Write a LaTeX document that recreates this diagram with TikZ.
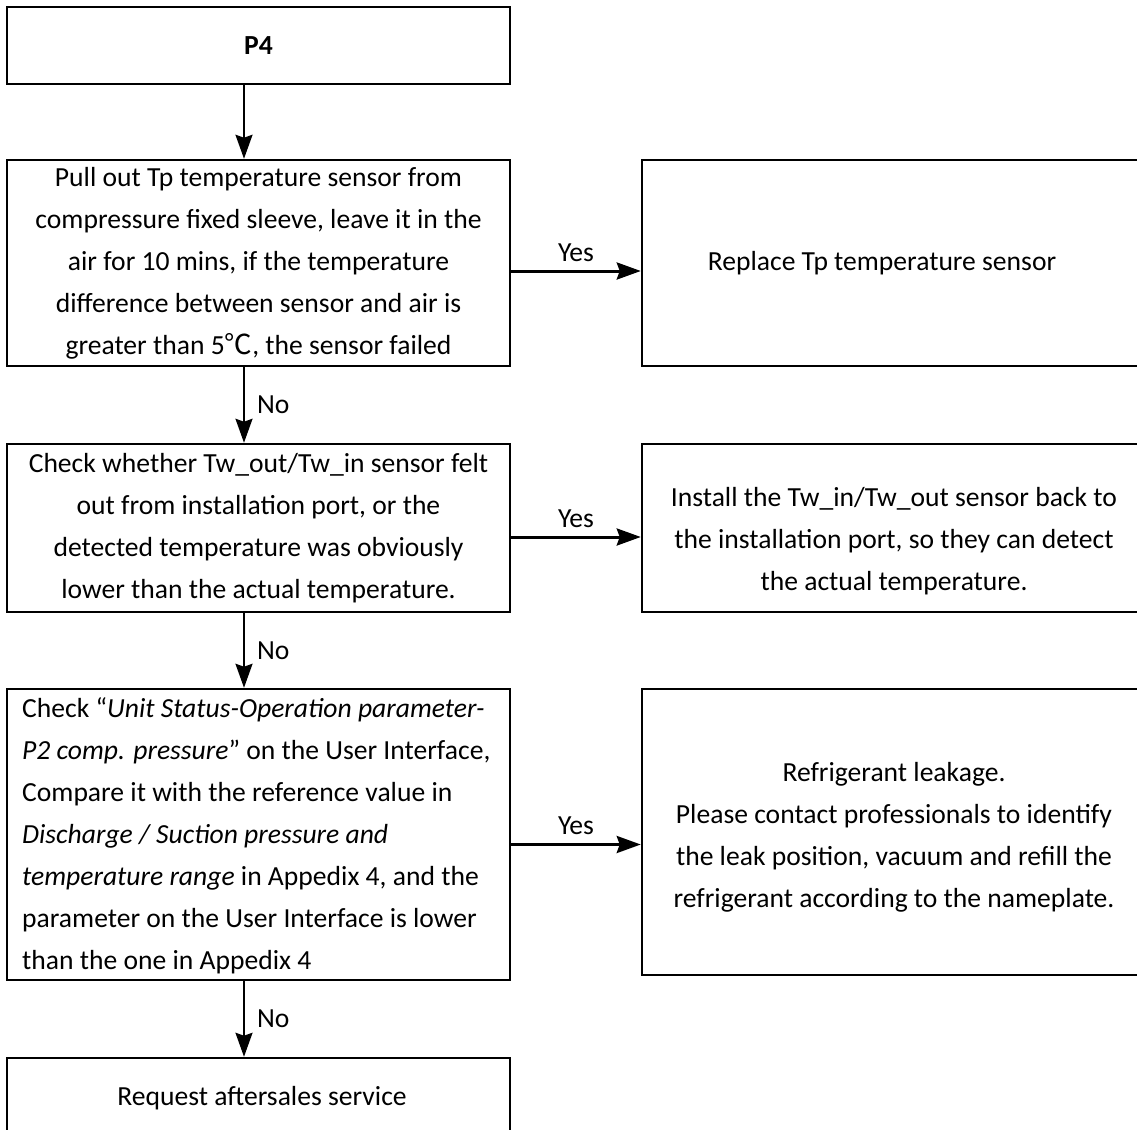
\documentclass[tikz,border=0pt]{standalone}
\usepackage{fontspec}
\setmainfont{Carlito}
\newfontfamily\cjk{Noto Sans CJK SC}
\usetikzlibrary{arrows.meta}
\newcommand{\bodyfont}{\fontsize{27.6}{42}\selectfont}
\tikzset{
  box/.style={draw, line width=2.5pt, inner sep=0pt, align=center, font=\bodyfont},
  tip/.style={-{Stealth[length=24pt,width=17pt,inset=3pt]}},
  noarr/.style={line width=2pt, tip},
  yesarr/.style={line width=3pt, tip},
  lbl/.style={font=\bodyfont, inner sep=0pt}
}
\begin{document}
\begin{tikzpicture}[x=1pt,y=-1pt]
\fill[white] (0,0) rectangle (1137,1129);
\useasboundingbox (0,0) rectangle (1137,1129);
\coordinate (ax) at (244,0);
% left column
\node[box, minimum width=503pt, minimum height=77pt] (p4) at (258.5,45.5) {\textbf{P4}};
\node[box, minimum width=503pt, minimum height=206pt] (b2) at (258.5,263) {Pull out Tp temperature sensor from\\compressure fixed sleeve, leave it in the\\air for 10 mins, if the temperature\\difference between sensor and air is\\greater than 5{\cjk ℃}, the sensor failed};
\node[box, minimum width=503pt, minimum height=168pt] (b3) at (258.5,528) {Check whether Tw\_out/Tw\_in sensor felt\\out from installation port, or the\\detected temperature was obviously\\lower than the actual temperature.};
\node[draw, line width=2.5pt, minimum width=503pt, minimum height=291pt, inner sep=0pt] (b4) at (258.5,834.5) {};
\node[lbl, align=left, anchor=west] (b4t) at (22,836) {Check “\textit{Unit Status-Operation parameter-}\\\textit{P2 comp. pressure}” on the User Interface,\\Compare it with the reference value in\\\textit{Discharge / Suction pressure and}\\\textit{temperature range} in Appedix 4, and the\\parameter on the User Interface is lower\\than the one in Appedix 4};
\node[box, minimum width=503pt, minimum height=90pt] (b5) at (258.5,1103) {};
\node[lbl] (b5t) at (262,1098) {Request aftersales service};
% right column
\node[box, minimum width=500pt, minimum height=206pt] (r1) at (892,263) {};
\node[lbl] (r1t) at (882,263) {Replace Tp temperature sensor};
\node[box, minimum width=500pt, minimum height=168pt] (r2) at (892,528) {};
\node[lbl, align=center] (r2t) at (894,541) {Install the Tw\_in/Tw\_out sensor back to\\the installation port, so they can detect\\the actual temperature.};
\node[box, minimum width=500pt, minimum height=286pt] (r3) at (892,832) {};
\node[lbl, align=center] (r3t) at (894,837) {Refrigerant leakage.\\ Please contact professionals to identify\\the leak position, vacuum and refill the\\refrigerant according to the nameplate.};
% connectors
\draw[noarr] (p4.south -| ax) -- (b2.north -| ax);
\draw[noarr] (b2.south -| ax) -- (b3.north -| ax) node[lbl, midway, anchor=west, xshift=12pt] (n1) {No};
\draw[noarr] (b3.south -| ax) -- (b4.north -| ax) node[lbl, midway, anchor=west, xshift=12pt] (n2) {No};
\draw[noarr] (b4.south -| ax) -- (b5.north -| ax) node[lbl, midway, anchor=west, xshift=12pt] (n3) {No};
\draw[yesarr] ([yshift=-8pt]b2.east) -- ([yshift=-8pt]r1.west) node[lbl, midway, above=8pt] (y1) {Yes};
\draw[yesarr] ([yshift=-9pt]b3.east) -- ([yshift=-9pt]r2.west) node[lbl, midway, above=8pt] (y2) {Yes};
\draw[yesarr] ([yshift=-10pt]b4.east) -- ([yshift=-10pt]b4.east -| r3.west) node[lbl, midway, above=8pt] (y3) {Yes};
\end{tikzpicture}
\end{document}
